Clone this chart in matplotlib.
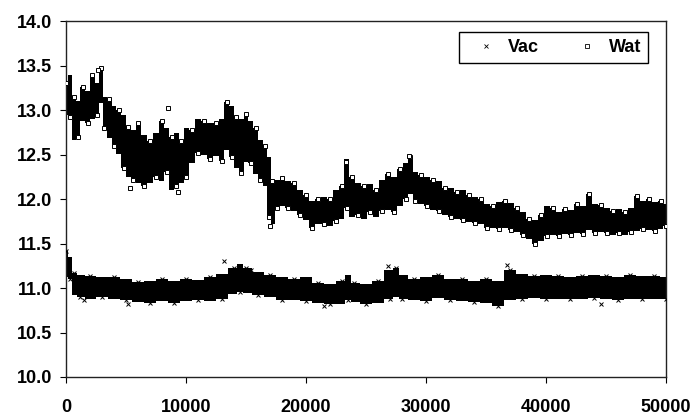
import matplotlib
matplotlib.use("Agg")
import matplotlib.pyplot as plt

# ---- Data: band envelopes of the two dense series ----
wat_x = [0, 300, 700, 1000, 1400, 1800, 2200, 2600, 2900, 3200, 3600, 4000, 4400, 4800,
         5200, 5600, 6000, 6500, 7000, 7500, 8000, 8400, 8800, 9200, 9600, 10000, 10500,
         11000, 11500, 12000, 12500, 13000, 13400, 13800, 14200, 14600, 15000, 15400,
         15800, 16200, 16600, 16900, 17200, 17600, 18000, 18500, 19000, 19500, 20000,
         20500, 21000, 21500, 22000, 22500, 23000, 23400, 23800, 24300, 24800, 25300,
         25800, 26300, 26800, 27300, 27800, 28300, 28700, 29100, 29600, 30100, 30600,
         31100, 31600, 32100, 32600, 33100, 33600, 34100, 34600, 35100, 35600, 36100,
         36600, 37100, 37600, 38100, 38600, 39100, 39600, 40100, 40600, 41100, 41600,
         42100, 42600, 43100, 43600, 44100, 44600, 45100, 45600, 46100, 46600, 47100,
         47600, 48100, 48600, 49100, 49600, 50000]
wat_top = [13.30, 13.40, 13.15, 13.10, 13.26, 13.22, 13.39, 13.30, 13.47, 13.15, 13.12, 13.05,
           13.00, 12.95, 12.81, 12.78, 12.85, 12.72, 12.65, 12.74, 12.88, 12.80, 12.70, 12.74,
           12.65, 12.80, 12.78, 12.90, 12.88, 12.86, 12.85, 12.90, 13.09, 13.05, 12.92, 12.90,
           12.96, 12.88, 12.80, 12.66, 12.60, 12.47, 12.20, 12.22, 12.24, 12.20, 12.18, 12.10,
           12.05, 11.98, 12.00, 12.02, 12.00, 12.10, 12.15, 12.45, 12.25, 12.18, 12.15, 12.17,
           12.10, 12.22, 12.28, 12.25, 12.34, 12.40, 12.47, 12.30, 12.27, 12.25, 12.22, 12.20,
           12.12, 12.13, 12.08, 12.10, 12.05, 12.02, 12.00, 11.95, 11.92, 11.97, 11.98, 11.96,
           11.90, 11.85, 11.78, 11.76, 11.82, 11.92, 11.90, 11.86, 11.89, 11.88, 11.94, 11.92,
           12.06, 11.95, 11.93, 11.90, 11.87, 11.89, 11.86, 11.90, 12.04, 11.98, 12.00, 11.97,
           11.98, 11.95]
wat_bot = [12.95, 12.92, 12.66, 12.70, 12.88, 12.85, 12.90, 12.95, 13.08, 12.80, 12.69, 12.60,
           12.51, 12.35, 12.25, 12.22, 12.18, 12.15, 12.18, 12.25, 12.20, 12.30, 12.10, 12.15,
           12.18, 12.25, 12.40, 12.52, 12.50, 12.45, 12.48, 12.43, 12.55, 12.47, 12.35, 12.29,
           12.42, 12.40, 12.28, 12.22, 12.15, 11.80, 11.72, 11.90, 11.92, 11.90, 11.87, 11.82,
           11.76, 11.68, 11.72, 11.72, 11.70, 11.75, 11.78, 11.90, 11.80, 11.82, 11.78, 11.85,
           11.80, 11.87, 11.88, 11.86, 11.92, 12.00, 12.06, 11.98, 11.95, 11.92, 11.88, 11.87,
           11.82, 11.80, 11.78, 11.76, 11.74, 11.73, 11.72, 11.68, 11.67, 11.66, 11.67, 11.65,
           11.63, 11.60, 11.55, 11.50, 11.53, 11.58, 11.60, 11.58, 11.61, 11.60, 11.62, 11.61,
           11.65, 11.62, 11.63, 11.62, 11.60, 11.62, 11.60, 11.63, 11.64, 11.66, 11.65, 11.64,
           11.66, 11.70]

vac_x = [0, 300, 700, 1200, 2000, 3000, 4000, 5000, 6000, 7000, 8000, 9000, 10000, 11000,
         12000, 13000, 14000, 14500, 15000, 16000, 17000, 18000, 19000, 20000, 21000, 22000,
         23000, 23500, 24000, 25000, 26000, 27000, 27500, 28000, 29000, 30000, 31000, 32000,
         33000, 34000, 35000, 36000, 37000, 38000, 39000, 40000, 41000, 42000, 43000, 44000,
         45000, 46000, 47000, 48000, 49000, 50000]
vac_top = [11.42, 11.35, 11.17, 11.15, 11.13, 11.12, 11.12, 11.10, 11.07, 11.08, 11.10, 11.08,
           11.10, 11.09, 11.12, 11.16, 11.22, 11.27, 11.22, 11.18, 11.15, 11.12, 11.10, 11.12,
           11.06, 11.05, 11.08, 11.15, 11.06, 11.05, 11.08, 11.20, 11.22, 11.15, 11.10, 11.12,
           11.15, 11.10, 11.10, 11.08, 11.10, 11.08, 11.20, 11.16, 11.14, 11.15, 11.14, 11.12,
           11.13, 11.15, 11.14, 11.12, 11.15, 11.14, 11.13, 11.12]
vac_bot = [11.12, 11.10, 10.92, 10.90, 10.88, 10.90, 10.88, 10.86, 10.84, 10.83, 10.85, 10.83,
           10.85, 10.86, 10.85, 10.88, 10.93, 10.96, 10.94, 10.92, 10.90, 10.87, 10.86, 10.85,
           10.83, 10.82, 10.82, 10.86, 10.84, 10.82, 10.83, 10.88, 10.90, 10.88, 10.86, 10.85,
           10.89, 10.87, 10.85, 10.84, 10.83, 10.80, 10.86, 10.88, 10.89, 10.88, 10.88, 10.88,
           10.88, 10.89, 10.88, 10.87, 10.88, 10.88, 10.88, 10.88]

# a few isolated points visible outside the bands
wat_out_x = [8500, 23300, 28600, 2700, 5300, 9300, 17000]
wat_out_y = [13.02, 12.42, 12.48, 13.45, 12.12, 12.08, 11.70]
vac_out_x = [5200, 13200, 15400, 26800, 36800, 44600, 1500, 21500]
vac_out_y = [10.82, 11.30, 11.20, 11.25, 11.26, 10.82, 10.87, 10.80]

xticks = [0, 10000, 20000, 30000, 40000, 50000]
yticks = [10.0, 10.5, 11.0, 11.5, 12.0, 12.5, 13.0, 13.5, 14.0]

plt.rcParams['font.family'] = ['Liberation Sans', 'DejaVu Sans']

fig = plt.figure(figsize=(6.95, 4.15), dpi=100)
ax = fig.add_axes([0.095, 0.0916, 0.863, 0.8574])

# bands (blocky, like the densely packed markers)
ax.fill_between(wat_x, wat_bot, wat_top, step='mid', color='black', lw=0, zorder=2)
ax.fill_between(vac_x, vac_bot, vac_top, step='mid', color='black', lw=0, zorder=2)

# edge markers to give the scatter texture
ax.plot(wat_x[::2] + wat_x[1::2] + wat_out_x, wat_top[::2] + wat_bot[1::2] + wat_out_y,
        ls='none', marker='s', ms=3.0, mfc='white', mec='black', mew=0.7, zorder=3)
ax.plot(vac_x[::2] + vac_x[1::2] + vac_out_x, vac_top[::2] + vac_bot[1::2] + vac_out_y,
        ls='none', marker='x', ms=2.8, mec='black', mew=0.7, zorder=3)

# legend proxies
h1, = ax.plot([], [], ls='none', marker='x', ms=2.2, mec='black', mew=0.6, label='Vac')
h2, = ax.plot([], [], ls='none', marker='s', ms=2.2, mfc='white', mec='black', mew=0.6, label='Wat')
leg = ax.legend(handles=[h1, h2], ncol=2, loc='upper right', bbox_to_anchor=(0.971, 0.97),
                frameon=True, fancybox=False, edgecolor='black', framealpha=1,
                prop={'weight': 'bold', 'size': 13}, handlelength=2.2, handletextpad=0.1,
                columnspacing=1.6, borderpad=0.4, borderaxespad=0.0)
leg.get_frame().set_linewidth(1.0)

ax.set_xlim(0, 50000)
ax.set_ylim(10.0, 14.0)
ax.set_xticks(xticks)
ax.set_xticklabels([str(v) for v in xticks])
ax.set_yticks(yticks)
ax.set_yticklabels([f"{v:.1f}" for v in yticks])
ax.tick_params(direction='out', length=4, width=0.8, labelsize=13, pad=6)
for lab in ax.get_xticklabels() + ax.get_yticklabels():
    lab.set_fontweight('bold')
ax.tick_params(axis='x', pad=12)
for s in ax.spines.values():
    s.set_linewidth(1.0)
    s.set_color('#222222')

fig.savefig('out.png', dpi=100)
